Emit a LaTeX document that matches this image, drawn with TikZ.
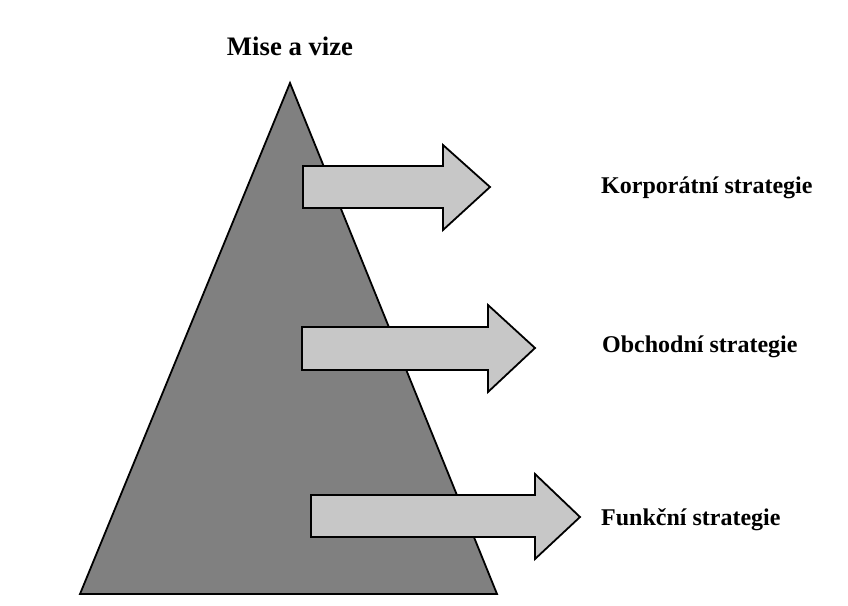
\documentclass[tikz,border=0pt]{standalone}
\usepackage{fontspec}
\setmainfont{Liberation Serif}
\begin{document}
\begin{tikzpicture}[x=1pt,y=-1pt,
  pyr/.style={draw=black,line width=1.8pt,fill=black!50,line join=miter},
  arr/.style={draw=black,line width=1.8pt,fill=black!22,line join=miter},
  lbl/.style={font=\bfseries\fontsize{24}{28}\selectfont,anchor=west,inner sep=0pt},
  ttl/.style={font=\bfseries\fontsize{26.7}{30}\selectfont,inner sep=0pt}]
\useasboundingbox (0,0) rectangle (848,605);
\fill[white] (0,0) rectangle (848,605);
% pyramid
\draw[pyr] (80,594) -- (290,83) -- (497,594) -- cycle;
% arrows
\draw[arr] (303,166) -- (443,166) -- (443,145) -- (490,187) -- (443,230) -- (443,208) -- (303,208) -- cycle;
\draw[arr] (302,327) -- (488,327) -- (488,305) -- (535,348) -- (488,392) -- (488,370) -- (302,370) -- cycle;
\draw[arr] (311,495) -- (535,495) -- (535,474) -- (580,517) -- (535,559) -- (535,537) -- (311,537) -- cycle;
% labels
\node[ttl] (mise) at (290,46) {Mise a vize};
\node[lbl] (korp) at (601,188) {Korporátní strategie};
\node[lbl] (obch) at (602,347) {Obchodní strategie};
\node[lbl] (funk) at (601,520) {Funkční strategie};
\end{tikzpicture}
\end{document}
